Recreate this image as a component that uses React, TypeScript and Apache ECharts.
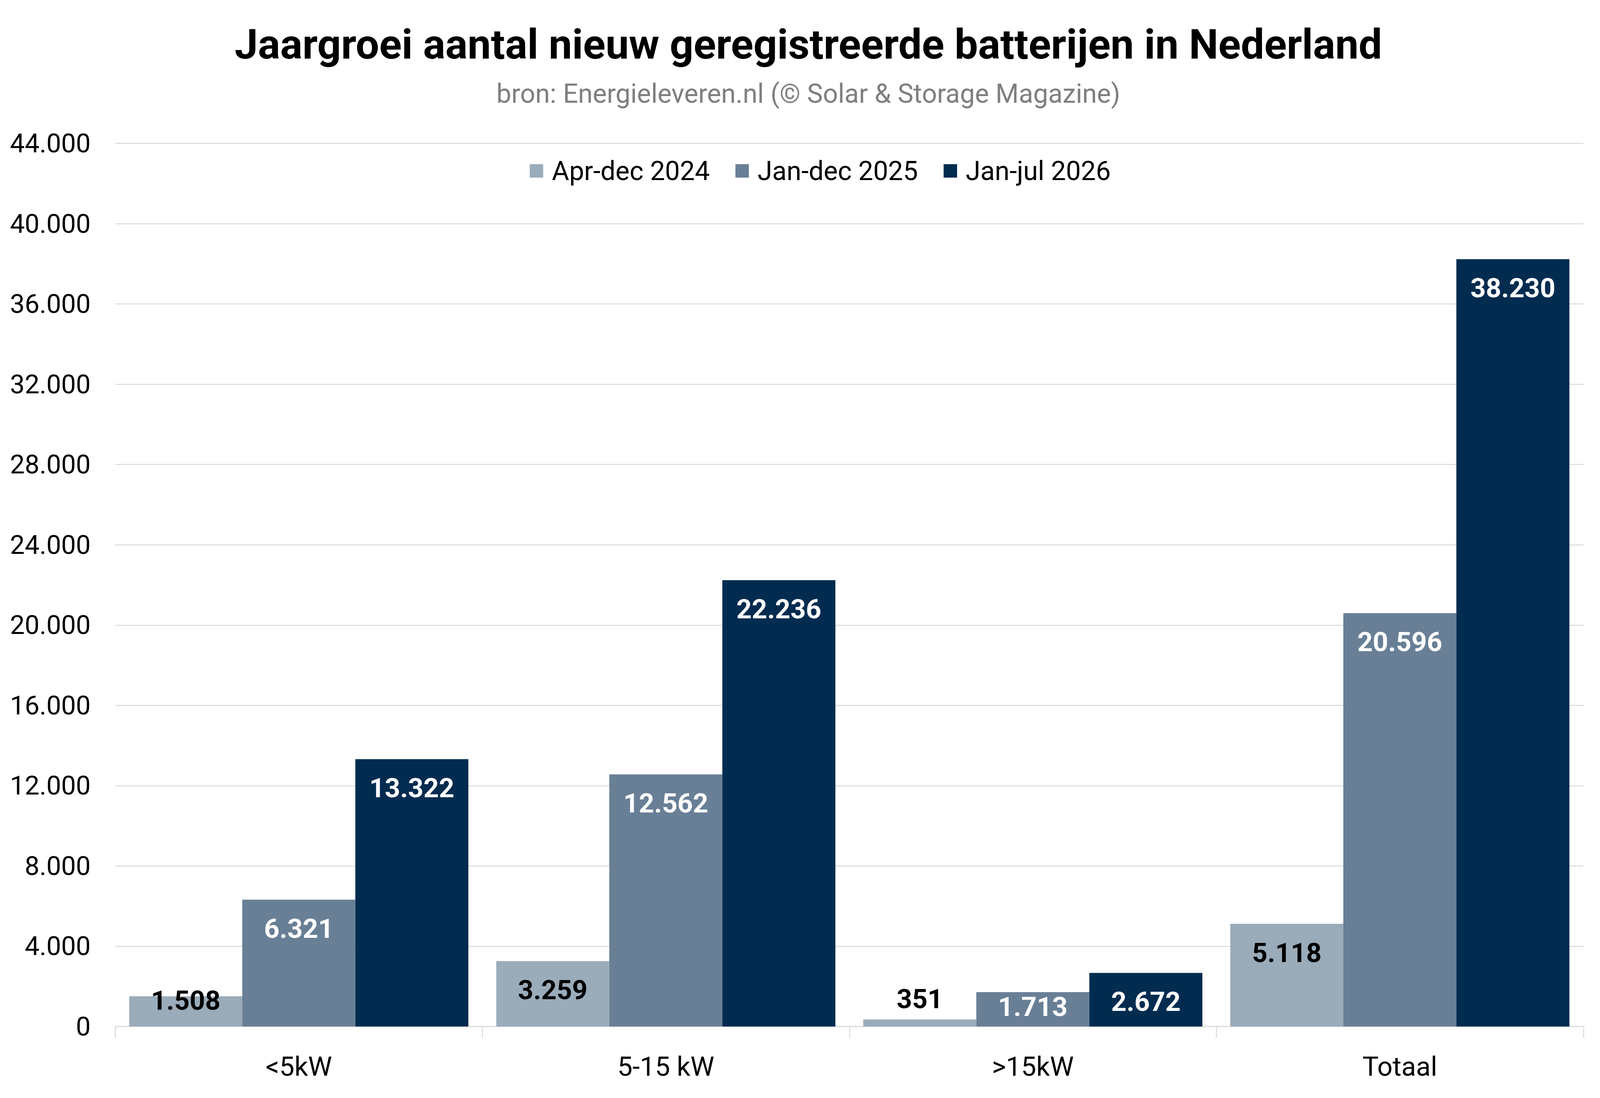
import React, { useEffect, useRef } from 'react';
import * as echarts from 'echarts';

const categories = ['<5kW', '5-15 kW', '>15kW', 'Totaal'];
const seriesNames = ['Apr-dec 2024', 'Jan-dec 2025', 'Jan-jul 2026'];
const aprDec2024 = [1508, 3259, 351, 5118];
const janDec2025 = [6321, 12562, 1713, 20596];
const janJul2026 = [13322, 22236, 2672, 38230];
const yMax = 44000;
const yInterval = 4000;

const titleText = 'Jaargroei aantal nieuw geregistreerde batterijen in Nederland';
const subtitleText = 'bron: Energieleveren.nl (© Solar & Storage Magazine)';

const colors = ['#9AABBA', '#687F96', '#012C50'];
const labelColors = ['#000000', '#FFFFFF', '#FFFFFF'];

const fmt = (v: number) => String(v).replace(/\B(?=(\d{3})+(?!\d))/g, '.');

const FONT = 'Roboto';
const REF_W = 4996;
const REF_H = 2811;

export default function App() {
  const ref = useRef<HTMLDivElement>(null);
  useEffect(() => {
    document.body.style.margin = '0';
    document.body.style.overflow = 'hidden';
    const el = ref.current!;
    const W = el.clientWidth || REF_W;
    const H = el.clientHeight || REF_H;
    const sx = W / REF_W;
    const sy = H / REF_H;
    const sf = Math.min(sx, sy);
    const X = (v: number) => v * sx;
    const Y = (v: number) => v * sy;
    const F = (v: number) => v * sf;

    const LABEL_SIZE = 84;
    const half = F(LABEL_SIZE / 2);
    // label centre offset below the bar top, in reference pixels
    const inside = (c: number) => ({ position: 'insideTop', distance: Y(c) - half });
    const labelOverrides: Record<string, any> = {
      '0-0': inside(11),
      '0-2': { position: 'top', distance: Y(52) - half },
      '1-2': inside(37),
    };

    const chart = echarts.init(el, null, { renderer: 'svg' });
    const allSeries = [aprDec2024, janDec2025, janJul2026];
    chart.setOption({
      animation: false,
      backgroundColor: '#FFFFFF',
      textStyle: { fontFamily: FONT },
      graphic: [
        {
          type: 'text',
          x: X(2524),
          y: Y(113),
          style: {
            text: titleText,
            fontFamily: FONT,
            fontSize: F(130),
            fontWeight: 'bold',
            fill: '#000000',
            textAlign: 'center',
            textVerticalAlign: 'middle',
          },
        },
        {
          type: 'text',
          x: X(2524),
          y: Y(240),
          style: {
            text: subtitleText,
            fontFamily: FONT,
            fontSize: F(83),
            fill: '#7F7F7F',
            textAlign: 'center',
            textVerticalAlign: 'middle',
          },
        },
      ],
      legend: {
        data: seriesNames,
        left: X(1648),
        top: Y(433) - F(42),
        icon: 'rect',
        itemWidth: F(42),
        itemHeight: F(42),
        itemGap: F(80),
        textStyle: {
          fontFamily: FONT,
          fontSize: F(83),
          color: '#000000',
          padding: [0, 0, 0, F(21)],
        },
      },
      grid: { left: X(360), right: X(52), top: Y(367), bottom: Y(183) },
      xAxis: {
        type: 'category',
        data: categories,
        axisLine: { show: true, lineStyle: { color: '#D9D9D9', width: F(3) } },
        axisTick: { show: true, length: Y(29), lineStyle: { color: '#D9D9D9', width: F(3) } },
        axisLabel: {
          fontFamily: FONT,
          fontSize: F(84),
          color: '#000000',
          margin: Y(102) - F(42),
        },
      },
      yAxis: {
        type: 'value',
        min: 0,
        max: yMax,
        interval: yInterval,
        axisLine: { show: false },
        axisTick: { show: false },
        splitLine: { lineStyle: { color: '#D9D9D9', width: F(3) } },
        axisLabel: {
          fontFamily: FONT,
          fontSize: F(82),
          color: '#000000',
          margin: X(77),
          formatter: (v: number) => fmt(v),
        },
      },
      series: allSeries.map((vals, si) => ({
        name: seriesNames[si],
        type: 'bar',
        barGap: '0%',
        barCategoryGap: '7.6%',
        itemStyle: { color: colors[si] },
        label: {
          show: true,
          ...inside(74),
          fontFamily: FONT,
          fontSize: F(LABEL_SIZE),
          fontWeight: 'bold',
          color: labelColors[si],
          formatter: (p: any) => fmt(p.value),
        },
        data: vals.map((v, ci) => {
          const ov = labelOverrides[`${si}-${ci}`];
          return ov ? { value: v, label: ov } : v;
        }),
      })),
    });
    return () => chart.dispose();
  }, []);
  return <div ref={ref} style={{ width: '100vw', height: '100vh' }} />;
}
